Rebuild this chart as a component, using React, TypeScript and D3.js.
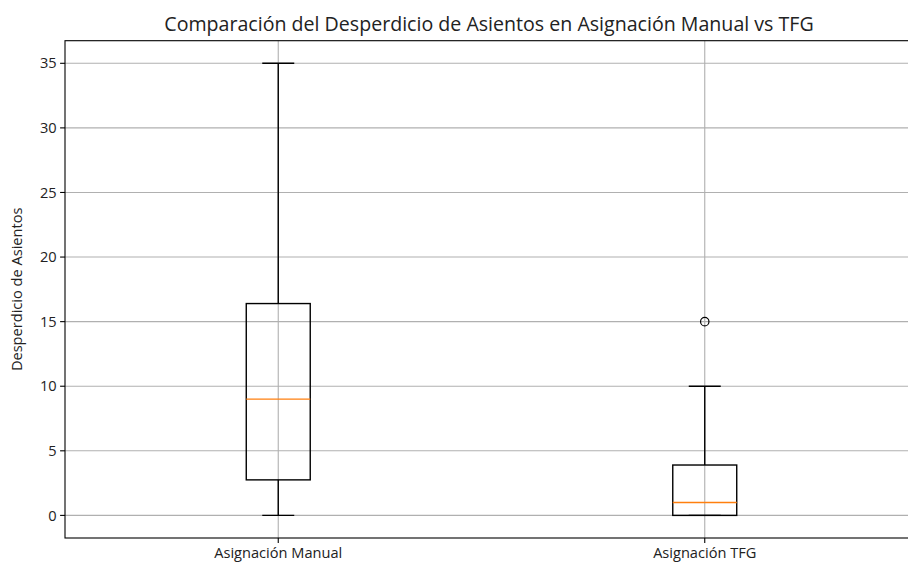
import React, { useRef, useEffect } from 'react';
import * as d3 from 'd3';

// Datos del boxplot
const categories = ['Asignación Manual', 'Asignación TFG'];
const whiskerLow = [0, 0];
const q1 = [2.75, 0];
const median = [9, 1];
const q3 = [16.4, 3.9];
const whiskerHigh = [35, 10];
const outliers = [[], [15]];
const yTicks = [0, 5, 10, 15, 20, 25, 30, 35];

const W = 908;
const H = 563;

const App = () => {
  const svgRef = useRef<SVGSVGElement | null>(null);

  useEffect(() => {
    const svg = d3.select(svgRef.current);
    svg.selectAll('*').remove();

    const margin = { left: 65, top: 40.7, bottom: 538 };
    const font = 'Open Sans, sans-serif';
    const tickSize = 14.6;

    const x = d3.scaleLinear().domain([0.5, 2.5]).range([margin.left, margin.left + 853]);
    const y = d3.scaleLinear().domain([-1.75, 36.75]).range([margin.bottom, margin.top]);

    const grid = svg.append('g');
    // rejilla horizontal
    yTicks.forEach(t => {
      grid.append('line')
        .attr('x1', x(0.5)).attr('x2', x(2.5))
        .attr('y1', y(t)).attr('y2', y(t))
        .attr('stroke', '#b0b0b0').attr('stroke-width', 1.1);
    });
    // rejilla vertical
    categories.forEach((_, i) => {
      grid.append('line')
        .attr('x1', x(i + 1)).attr('x2', x(i + 1))
        .attr('y1', margin.top).attr('y2', margin.bottom)
        .attr('stroke', '#b0b0b0').attr('stroke-width', 1.1);
    });

    const boxW = 0.15;
    const capW = boxW / 2;
    const g = svg.append('g');
    categories.forEach((_, i) => {
      const c = i + 1;
      // bigotes
      g.append('line')
        .attr('x1', x(c)).attr('x2', x(c))
        .attr('y1', y(whiskerLow[i])).attr('y2', y(q1[i]))
        .attr('stroke', '#000').attr('stroke-width', 1.4);
      g.append('line')
        .attr('x1', x(c)).attr('x2', x(c))
        .attr('y1', y(q3[i])).attr('y2', y(whiskerHigh[i]))
        .attr('stroke', '#000').attr('stroke-width', 1.4);
      [whiskerLow[i], whiskerHigh[i]].forEach(v => {
        g.append('line')
          .attr('x1', x(c - capW / 2)).attr('x2', x(c + capW / 2))
          .attr('y1', y(v)).attr('y2', y(v))
          .attr('stroke', '#000').attr('stroke-width', 1.4);
      });
      // caja
      g.append('rect')
        .attr('x', x(c - boxW / 2))
        .attr('y', y(q3[i]))
        .attr('width', x(c + boxW / 2) - x(c - boxW / 2))
        .attr('height', y(q1[i]) - y(q3[i]))
        .attr('fill', 'none')
        .attr('stroke', '#000').attr('stroke-width', 1.4);
      // mediana
      g.append('line')
        .attr('x1', x(c - boxW / 2)).attr('x2', x(c + boxW / 2))
        .attr('y1', y(median[i])).attr('y2', y(median[i]))
        .attr('stroke', '#ff7f0e').attr('stroke-width', 1.4);
      // atípicos
      outliers[i].forEach(v => {
        g.append('circle')
          .attr('cx', x(c)).attr('cy', y(v)).attr('r', 4.2)
          .attr('fill', 'none')
          .attr('stroke', '#000').attr('stroke-width', 1.2);
      });
    });

    // ejes
    const yAxis = svg.append('g');
    yTicks.forEach(t => {
      yAxis.append('line')
        .attr('x1', margin.left - 4.9).attr('x2', margin.left)
        .attr('y1', y(t)).attr('y2', y(t))
        .attr('stroke', '#000').attr('stroke-width', 1.1);
      yAxis.append('text')
        .attr('x', margin.left - 8.4).attr('y', y(t))
        .attr('dy', '0.35em')
        .attr('text-anchor', 'end')
        .attr('font-family', font).attr('font-size', tickSize)
        .attr('fill', '#222')
        .text(t);
    });
    categories.forEach((cat, i) => {
      yAxis.append('line')
        .attr('x1', x(i + 1)).attr('x2', x(i + 1))
        .attr('y1', margin.bottom).attr('y2', margin.bottom + 4.9)
        .attr('stroke', '#000').attr('stroke-width', 1.1);
      yAxis.append('text')
        .attr('x', x(i + 1)).attr('y', margin.bottom + 8)
        .attr('dy', '0.8em')
        .attr('text-anchor', 'middle')
        .attr('font-family', font).attr('font-size', tickSize)
        .attr('fill', '#222')
        .text(cat);
    });

    // marco
    svg.append('rect')
      .attr('x', margin.left).attr('y', margin.top)
      .attr('width', x(2.5) - margin.left)
      .attr('height', margin.bottom - margin.top)
      .attr('fill', 'none')
      .attr('stroke', '#000').attr('stroke-width', 1.1);

    svg.append('text')
      .attr('transform', `translate(22,${(margin.top + margin.bottom) / 2}) rotate(-90)`)
      .attr('text-anchor', 'middle')
      .attr('font-family', font).attr('font-size', tickSize)
      .attr('fill', '#222')
      .text('Desperdicio de Asientos');

    svg.append('text')
      .attr('x', 489).attr('y', 31)
      .attr('text-anchor', 'middle')
      .attr('font-family', font).attr('font-size', 19.6)
      .attr('fill', '#222')
      .text('Comparación del Desperdicio de Asientos en Asignación Manual vs TFG');
  }, []);

  return (
    <div>
      <style>{'body{margin:0;background:#fff;}'}</style>
      <svg ref={svgRef} width={W} height={H} style={{ display: 'block' }}></svg>
    </div>
  );
};

export default App;
